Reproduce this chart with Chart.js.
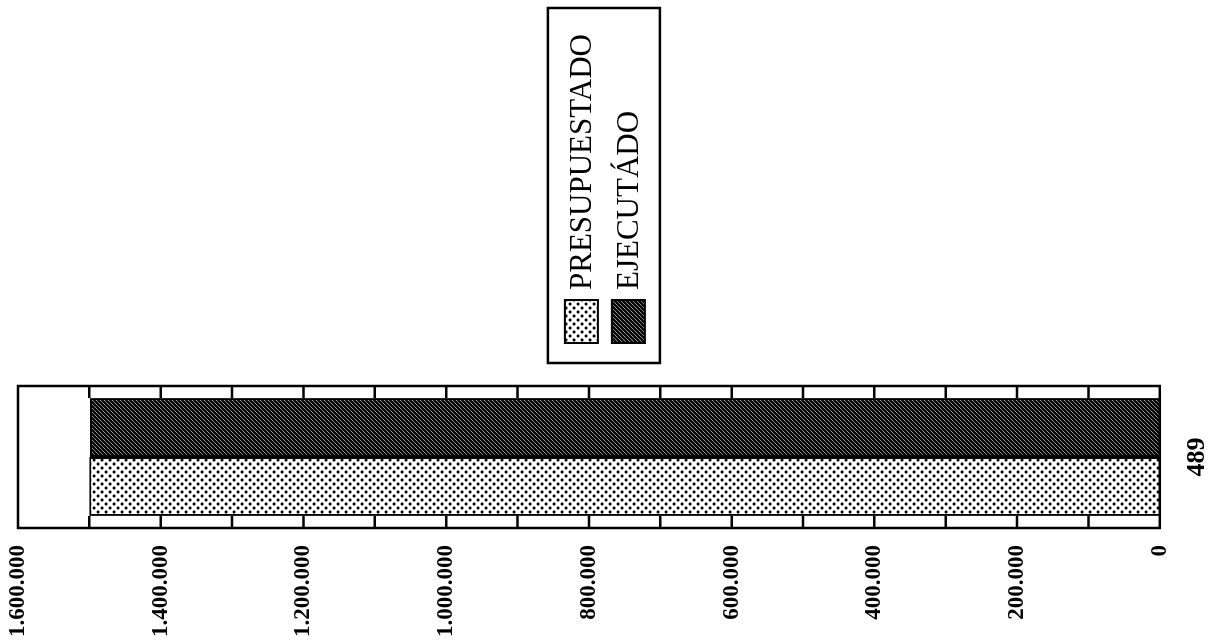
<!DOCTYPE html>
<html>
<head>
<meta charset="utf-8">
<script src="https://cdn.jsdelivr.net/npm/chart.js@4"></script>
<style>
  html, body { margin: 0; padding: 0; background: #fff; }
  #wrap { position: relative; width: 1211px; height: 642px; overflow: hidden; }
  /* the chart is drawn upright and turned on its side like the scanned page */
  #chart { position: absolute; left: 0; top: 0; transform-origin: 0 0; transform: translate(0, 642px) rotate(-90deg); }
</style>
</head>
<body>
<div id="wrap"><canvas id="chart" width="642" height="1211"></canvas></div>
<script>
const categories = ['489'];
const presupuestado = [1500000];
const ejecutado = [1499000];
const seriesNames = ['PRESUPUESTADO', 'EJECUTÁDO'];
const axisMax = 1600000;
const tickStep = 100000;
const labelStep = 200000;

function dotPattern() {
    const c = document.createElement('canvas');
    c.width = 8; c.height = 8;
    const g = c.getContext('2d');
    g.fillStyle = '#fff';
    g.fillRect(0, 0, 8, 8);
    g.fillStyle = '#000';
    g.beginPath();
    g.arc(2, 2, 1.6, 0, Math.PI * 2);
    g.arc(6, 6, 1.6, 0, Math.PI * 2);
    g.fill();
    return g.createPattern(c, 'repeat');
}

function hatchPattern() {
    const c = document.createElement('canvas');
    c.width = 4; c.height = 4;
    const g = c.getContext('2d');
    g.fillStyle = '#fff';
    g.fillRect(0, 0, 4, 4);
    g.strokeStyle = '#000';
    g.lineWidth = 2.3;
    g.beginPath();
    g.moveTo(-1, 5); g.lineTo(5, -1);
    g.moveTo(-1, 1); g.lineTo(1, -1);
    g.moveTo(3, 5); g.lineTo(5, 3);
    g.stroke();
    return g.createPattern(c, 'repeat');
}

function fmt(v) {
    return String(v).replace(/\B(?=(\d{3})+(?!\d))/g, '.');
}

// frame round the plot, short inward tick marks, boxed legend beside the plot
const framePlugin = {
    id: 'framePlugin',
    afterDatasetsDraw(chart) {
        const ctx = chart.ctx;
        const a = chart.chartArea;
        const y = chart.scales.y;
        ctx.save();
        ctx.strokeStyle = '#000';
        ctx.lineWidth = 2.5;
        ctx.strokeRect(a.left, a.top, a.right - a.left, a.bottom - a.top);
        ctx.beginPath();
        y.ticks.forEach(t => {
            if (t.value <= 0 || t.value >= axisMax) return;
            const py = y.getPixelForValue(t.value);
            ctx.moveTo(a.left, py); ctx.lineTo(a.left + 12, py);
            ctx.moveTo(a.right, py); ctx.lineTo(a.right - 12, py);
        });
        ctx.stroke();
        ctx.restore();
    },
    afterDraw(chart) {
        const ctx = chart.ctx;
        const a = chart.chartArea;
        const sets = chart.data.datasets;
        const boxW = 43, boxH = 33, rowGap = 47;
        const left = a.right + 23;
        const width = 355;
        const height = 112;
        const top = (a.top + a.bottom) / 2 - 41;
        ctx.save();
        ctx.strokeStyle = '#000';
        ctx.lineWidth = 2.5;
        ctx.strokeRect(left, top, width, height);
        ctx.font = "31px 'Liberation Serif', serif";
        ctx.textBaseline = 'middle';
        ctx.textAlign = 'left';
        sets.forEach((ds, i) => {
            const sx = left + 20;
            const sy = top + 17 + i * rowGap;
            ctx.fillStyle = ds.backgroundColor;
            ctx.fillRect(sx, sy, boxW, boxH);
            ctx.lineWidth = 2;
            ctx.strokeRect(sx, sy, boxW, boxH);
            ctx.fillStyle = '#000';
            ctx.fillText(ds.label, sx + boxW + 10, sy + boxH / 2 + 1);
        });
        ctx.restore();
    }
};

Chart.defaults.font.family = "'Liberation Serif', 'DejaVu Serif', serif";
Chart.defaults.color = '#000';

new Chart(document.getElementById('chart'), {
    type: 'bar',
    data: {
        labels: categories,
        datasets: [
            {
                label: seriesNames[0],
                data: presupuestado,
                backgroundColor: dotPattern(),
                borderColor: '#000',
                borderWidth: 2
            },
            {
                label: seriesNames[1],
                data: ejecutado,
                backgroundColor: hatchPattern(),
                borderColor: '#000',
                borderWidth: 2
            }
        ]
    },
    options: {
        responsive: false,
        animation: false,
        devicePixelRatio: 1,
        layout: { padding: { top: 18, left: -12, right: 386, bottom: -24 } },
        datasets: { bar: { categoryPercentage: 0.83, barPercentage: 1.0 } },
        scales: {
            x: {
                grid: { display: false, drawTicks: false },
                border: { display: false },
                ticks: { font: { size: 26, weight: 'bold' }, padding: 22 }
            },
            y: {
                min: 0,
                max: axisMax,
                grid: { display: false, drawTicks: false },
                border: { display: false },
                ticks: {
                    stepSize: tickStep,
                    autoSkip: false,
                    padding: 17,
                    font: { size: 23, weight: 'bold' },
                    callback: v => (v % labelStep === 0 ? fmt(v) : '')
                },
                // let the frame run right up to the top label
                afterFit: s => { s.paddingTop = 0; }
            }
        },
        plugins: {
            tooltip: { enabled: false },
            legend: { display: false }
        }
    },
    plugins: [framePlugin]
});
</script>
</body>
</html>
